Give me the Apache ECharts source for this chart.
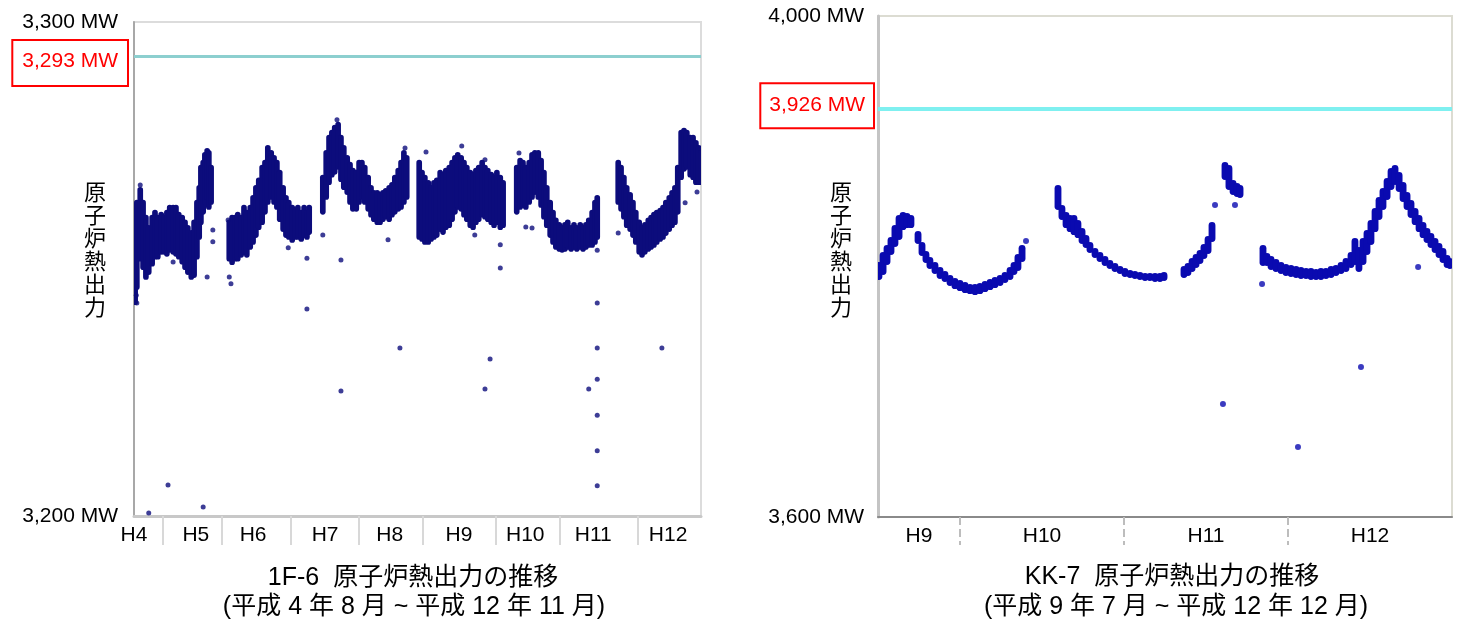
<!DOCTYPE html>
<html>
<head>
<meta charset="utf-8">
<title>原子炉熱出力の推移</title>
<script src="https://cdn.jsdelivr.net/npm/echarts@6/dist/echarts.min.js"></script>
<style>
	html, body { margin: 0; padding: 0; background: #fff; }
	#chart { width: 1462px; height: 623px; }
</style>
</head>
<body>
<div id="chart"></div>
<script>
// 1F-6 : x = months since 平成4年8月, y = MW
var leftYears = ['H4', 'H5', 'H6', 'H7', 'H8', 'H9', 'H10', 'H11', 'H12'];
var leftYearLabelAt = [0, 10.9, 21.0, 33.7, 45.1, 57.3, 69.0, 81.0, 94.2];
var leftYearEdges = [5.1, 15.5, 27.7, 39.7, 51.0, 63.8, 75.1, 88.9];
var leftRated = 3293;
// [month, low, high] of the dense band of daily points
var leftBand = [
	[0.2, 3242.7, 3260.0], [0.5, 3245.8, 3264.0], [1.1, 3251.5, 3266.6], [1.6, 3249.8, 3264.0],
	[2.1, 3247.8, 3261.0], [2.6, 3248.8, 3258.9], [3.2, 3250.5, 3261.0], [3.7, 3251.9, 3262.0],
	[4.2, 3251.9, 3261.0], [4.8, 3252.9, 3261.6], [5.3, 3252.9, 3261.0], [5.8, 3252.5, 3262.0],
	[6.3, 3253.3, 3263.0], [6.9, 3252.9, 3263.0], [7.4, 3252.5, 3263.0], [7.9, 3251.9, 3261.6],
	[8.5, 3250.9, 3261.0], [9.0, 3249.8, 3260.0], [9.5, 3248.8, 3258.9], [10.1, 3247.8, 3257.9],
	[10.6, 3248.2, 3260.0], [11.1, 3251.9, 3264.0], [11.5, 3255.9, 3267.0], [11.8, 3258.9, 3271.1],
	[12.2, 3261.0, 3272.1], [12.5, 3263.0, 3273.7], [12.9, 3264.0, 3274.5], [13.2, 3262.0, 3274.1],
	[13.6, 3263.0, 3271.1],

	[16.8, 3251.5, 3260.0], [17.3, 3250.8, 3261.0], [17.8, 3251.5, 3261.0], [18.3, 3251.5, 3261.6],
	[18.9, 3252.3, 3261.0], [19.4, 3252.9, 3263.0], [19.9, 3252.3, 3262.0], [20.5, 3253.9, 3263.0],
	[21.0, 3254.9, 3265.0], [21.5, 3256.3, 3267.0], [22.0, 3257.9, 3268.5], [22.6, 3258.9, 3271.1],
	[23.1, 3261.0, 3272.1], [23.6, 3263.0, 3275.1], [24.2, 3264.0, 3274.1], [24.7, 3263.0, 3273.1],
	[25.2, 3262.0, 3272.1], [25.7, 3259.5, 3270.1], [26.3, 3257.5, 3267.0], [26.8, 3256.3, 3265.0],
	[27.3, 3255.9, 3264.0], [27.9, 3255.3, 3263.0], [28.4, 3255.9, 3262.4], [28.9, 3255.9, 3263.0],
	[29.5, 3255.5, 3262.0], [30.0, 3256.3, 3263.0], [30.5, 3255.9, 3262.0], [30.9, 3256.9, 3263.0],

	[33.3, 3261.0, 3269.1], [33.9, 3264.0, 3274.1], [34.4, 3267.0, 3277.2], [34.9, 3268.5, 3278.2],
	[35.4, 3269.1, 3279.2], [36.0, 3270.1, 3279.8], [36.5, 3267.6, 3277.2], [37.0, 3266.0, 3275.1],
	[37.6, 3265.0, 3273.1], [38.1, 3263.0, 3271.7], [38.6, 3261.6, 3270.5], [39.2, 3261.6, 3270.1],
	[39.7, 3263.0, 3272.1], [40.2, 3264.0, 3272.1], [40.7, 3263.0, 3271.1], [41.3, 3261.6, 3269.1],
	[41.8, 3260.4, 3267.0], [42.3, 3259.5, 3266.0], [42.9, 3258.9, 3266.0], [43.4, 3258.9, 3265.6],
	[43.9, 3259.5, 3266.0], [44.4, 3260.0, 3266.4], [45.0, 3259.5, 3267.0], [45.5, 3260.4, 3267.6],
	[46.0, 3261.0, 3269.1], [46.6, 3261.6, 3270.5], [47.1, 3262.0, 3272.1], [47.6, 3263.0, 3274.1],
	[48.1, 3264.0, 3273.1],

	[50.3, 3255.9, 3272.1], [50.8, 3255.5, 3270.1], [51.3, 3254.9, 3269.1], [51.9, 3254.9, 3268.0],
	[52.4, 3255.5, 3267.0], [52.9, 3255.9, 3268.0], [53.4, 3256.3, 3268.5], [54.0, 3257.5, 3270.1],
	[54.5, 3256.9, 3269.7], [55.0, 3257.9, 3270.5], [55.6, 3258.3, 3271.1], [56.1, 3259.5, 3272.1],
	[56.6, 3261.0, 3273.1], [57.1, 3262.0, 3273.7], [57.7, 3261.6, 3273.1], [58.2, 3260.4, 3272.1],
	[58.7, 3259.5, 3271.1], [59.3, 3258.3, 3270.1], [59.8, 3257.9, 3269.7], [60.3, 3258.9, 3270.5],
	[60.8, 3259.5, 3271.1], [61.4, 3260.4, 3272.1], [61.9, 3260.0, 3271.1], [62.4, 3259.5, 3270.5],
	[63.0, 3258.9, 3269.7], [63.5, 3258.3, 3269.1], [64.0, 3258.9, 3270.1], [64.6, 3257.9, 3269.1],
	[65.1, 3258.3, 3268.0],

	[67.5, 3261.0, 3271.1], [68.1, 3262.0, 3272.5], [68.6, 3262.4, 3272.1], [69.1, 3262.0, 3271.1],
	[69.7, 3263.0, 3272.1], [70.2, 3264.0, 3273.7], [70.7, 3265.0, 3274.1], [71.3, 3264.0, 3274.1],
	[71.8, 3262.4, 3272.5], [72.3, 3260.0, 3270.1], [72.8, 3258.3, 3267.0], [73.4, 3256.3, 3264.0],
	[73.9, 3254.9, 3262.0], [74.4, 3253.9, 3260.4], [75.0, 3253.5, 3259.5], [75.5, 3253.3, 3258.9],
	[76.0, 3253.5, 3259.5], [76.5, 3253.9, 3260.0], [77.1, 3253.5, 3258.9], [77.6, 3253.9, 3259.5],
	[78.1, 3253.5, 3258.9], [78.7, 3253.9, 3259.5], [79.2, 3253.5, 3258.9], [79.7, 3253.9, 3259.5],
	[80.2, 3254.3, 3260.4], [80.8, 3254.3, 3262.0], [81.3, 3254.9, 3264.0], [81.7, 3255.9, 3265.0],

	[85.4, 3263.0, 3272.1], [85.9, 3261.6, 3271.1], [86.4, 3260.0, 3269.1], [86.9, 3258.3, 3267.0],
	[87.5, 3257.5, 3265.6], [88.0, 3256.3, 3264.0], [88.5, 3254.9, 3262.0], [89.1, 3252.9, 3260.0],
	[89.6, 3252.3, 3258.9], [90.1, 3252.9, 3259.5], [90.7, 3253.5, 3260.4], [91.2, 3253.9, 3261.0],
	[91.7, 3254.3, 3261.6], [92.2, 3254.9, 3262.0], [92.8, 3255.5, 3262.4], [93.3, 3255.9, 3263.0],
	[93.8, 3256.7, 3264.0], [94.4, 3257.5, 3265.0], [94.9, 3258.3, 3266.0], [95.4, 3258.9, 3267.0],
	[95.9, 3261.0, 3271.1], [96.5, 3268.0, 3278.2], [97.0, 3269.7, 3278.6], [97.5, 3270.1, 3278.2],
	[98.1, 3268.5, 3277.2], [98.6, 3268.0, 3277.2], [99.1, 3267.0, 3276.1], [99.6, 3267.0, 3275.1],
	[100, 3267.0, 3274.1]
];
// scattered single points away from the band
var leftOutliers = [
	[0.4, 3244.7], [0.5, 3243.1], [2.6, 3200.6], [6.0, 3206.3], [12.2, 3201.8], [6.9, 3251.4],
	[12.9, 3248.4], [13.9, 3255.5], [13.9, 3257.9], [16.6, 3259.9], [16.8, 3248.4], [17.1, 3247.0],
	[27.2, 3254.3], [30.5, 3252.2], [30.5, 3241.9], [33.3, 3256.9], [36.5, 3251.8], [36.5, 3225.3],
	[44.8, 3255.9], [46.9, 3234.0], [47.8, 3274.5], [51.5, 3273.7], [57.8, 3274.9], [60.1, 3256.9],
	[61.9, 3272.1], [64.6, 3254.9], [64.6, 3250.2], [61.9, 3225.7], [62.8, 3231.8], [67.9, 3273.5],
	[69.1, 3258.5], [70.2, 3258.3], [81.7, 3253.8], [81.7, 3243.1], [81.7, 3234.0], [81.7, 3227.7],
	[80.2, 3225.7], [81.7, 3220.4], [81.7, 3213.2], [81.7, 3206.1], [85.4, 3257.3], [93.1, 3234.0],
	[97.2, 3263.4], [99.3, 3265.6], [35.8, 3280.2], [1.1, 3267.0]
];

// KK-7 : x = months since 平成9年7月, y = MW
var rightYears = ['H9', 'H10', 'H11', 'H12'];
var rightYearLabelAt = [3, 12, 24, 36];
var rightYearEdges = [6, 18, 30];
var rightRated = 3926;
var rightBand = [
	[0.07, 3789.2, 3803.6], [0.37, 3793.2, 3811.6], [0.66, 3801.2, 3817.2], [0.95, 3809.2, 3823.5],
	[1.24, 3815.6, 3833.1], [1.54, 3821.2, 3841.2], [1.83, 3829.1, 3843.5], [2.12, 3830.7, 3842.7],
	[2.41, 3830.7, 3841.2],
	[2.93, 3818.0, 3828.3], [3.22, 3808.4, 3819.6], [3.51, 3802.8, 3812.4], [3.80, 3798.0, 3807.6],
	[4.17, 3794.0, 3803.6], [4.54, 3790.0, 3799.6], [4.90, 3787.6, 3796.4], [5.27, 3784.4, 3793.2],
	[5.63, 3782.0, 3790.8], [6.00, 3780.4, 3789.2], [6.37, 3778.8, 3787.6], [6.73, 3778.0, 3786.0],
	[7.10, 3777.2, 3786.0], [7.46, 3778.0, 3786.8], [7.83, 3779.6, 3788.4], [8.20, 3781.2, 3790.0],
	[8.56, 3782.8, 3791.6], [8.93, 3784.4, 3793.2], [9.29, 3786.8, 3795.6], [9.66, 3789.2, 3799.6],
	[9.95, 3793.2, 3803.6], [10.24, 3796.4, 3810.0], [10.54, 3803.6, 3817.2],

	[13.17, 3845.1, 3865.1], [13.46, 3837.1, 3849.1], [13.76, 3830.7, 3843.5], [14.05, 3827.5, 3841.2],
	[14.34, 3825.1, 3841.2], [14.63, 3822.7, 3837.1], [14.93, 3818.0, 3830.7], [15.22, 3814.8, 3825.1],
	[15.51, 3810.8, 3819.6], [15.88, 3806.8, 3814.8], [16.24, 3803.6, 3811.6], [16.61, 3800.4, 3808.4],
	[16.97, 3798.0, 3805.2], [17.34, 3795.6, 3802.8], [17.71, 3794.0, 3800.4], [18.07, 3791.6, 3798.8],
	[18.44, 3790.8, 3797.2], [18.80, 3790.0, 3796.4], [19.17, 3789.2, 3795.6], [19.54, 3788.4, 3794.8],
	[19.90, 3788.4, 3794.8], [20.27, 3787.6, 3794.8], [20.63, 3787.6, 3794.8], [20.93, 3788.4, 3795.6],

	[22.39, 3790.8, 3800.4], [22.68, 3792.4, 3802.8], [22.98, 3795.6, 3806.8], [23.27, 3798.8, 3810.0],
	[23.56, 3802.0, 3813.2], [23.85, 3806.0, 3818.0], [24.15, 3810.0, 3824.3], [24.44, 3819.6, 3835.5],
	[25.39, 3869.1, 3883.4], [25.68, 3861.1, 3881.0], [25.98, 3857.1, 3869.1], [26.27, 3855.5, 3866.7],
	[26.49, 3854.7, 3865.1],

	[28.17, 3800.4, 3817.2], [28.46, 3800.4, 3810.8], [28.76, 3797.2, 3808.4], [29.12, 3795.6, 3806.0],
	[29.49, 3794.0, 3803.6], [29.85, 3792.4, 3802.0], [30.22, 3791.6, 3801.2], [30.59, 3790.8, 3800.4],
	[30.95, 3790.0, 3799.6], [31.32, 3790.0, 3798.8], [31.68, 3789.2, 3798.8], [32.05, 3789.2, 3798.0],
	[32.41, 3789.2, 3798.8], [32.78, 3790.0, 3798.8], [33.15, 3790.8, 3800.4], [33.51, 3792.4, 3801.2],
	[33.88, 3794.0, 3803.6], [34.24, 3795.6, 3806.8], [34.61, 3798.8, 3811.6], [34.90, 3801.2, 3822.7],
	[35.19, 3795.6, 3815.6], [35.49, 3801.2, 3822.7], [35.78, 3809.2, 3829.1], [36.07, 3817.2, 3837.1],
	[36.37, 3827.5, 3846.7], [36.66, 3837.1, 3855.5], [36.95, 3845.1, 3862.7], [37.25, 3853.1, 3870.7],
	[37.54, 3861.1, 3878.6], [37.83, 3865.1, 3881.0], [38.13, 3859.5, 3875.4], [38.42, 3851.5, 3867.5],
	[38.71, 3845.1, 3859.5], [39.00, 3838.8, 3853.1], [39.30, 3833.1, 3846.7], [39.59, 3827.5, 3841.2],
	[39.88, 3822.7, 3835.5], [40.17, 3818.8, 3830.7], [40.46, 3814.8, 3826.7], [40.76, 3810.8, 3822.7],
	[41.05, 3806.8, 3818.8], [41.34, 3802.8, 3814.8], [41.64, 3798.8, 3809.2], [41.85, 3798.0, 3806.8]
];
var rightOutliers = [
	[10.83, 3820.4], [24.66, 3849.1], [26.12, 3849.1], [28.10, 3786.0], [39.52, 3799.6],
	[25.24, 3690.2], [30.73, 3655.9], [35.34, 3719.8]
];

var textFont = '"Liberation Sans", "Noto Sans CJK JP", sans-serif';

function bandRenderer(monthWidth, color) {
	return function (params, api) {
		var x = api.value(0);
		var top = api.coord([x, api.value(2)]);
		var bottom = api.coord([x, api.value(1)]);
		var w = api.size([monthWidth, 0])[0];
		return {
			type: 'rect',
			shape: { x: top[0] - w / 2, y: top[1], width: w, height: bottom[1] - top[1], r: w / 2 },
			style: { fill: color }
		};
	};
}

function mwLabel(v) {
	return v.toLocaleString('en-US') + ' MW';
}

// red boxed value left of the rated line; shift > 0 moves the box below the line
function ratedLine(value, color, width, padding, distance, shift) {
	var box = '{b|' + mwLabel(value) + '}';
	var gap = '{s| }';
	return {
		silent: true,
		symbol: 'none',
		data: [{ yAxis: value }],
		lineStyle: { color: color, width: width, type: 'solid' },
		label: {
			position: 'start',
			distance: distance,
			formatter: shift > 0 ? gap + '\n' + box : box + '\n' + gap,
			rich: {
				b: {
					color: '#ff0000',
					fontSize: 21,
					fontFamily: textFont,
					lineHeight: 24,
					borderColor: '#ff0000',
					borderWidth: 2,
					backgroundColor: '#fff',
					padding: padding
				},
				s: { fontSize: 1, lineHeight: Math.abs(shift) * 2, height: Math.abs(shift) * 2 }
			}
		}
	};
}

var myChart = echarts.init(document.getElementById('chart'));
var option = {
	animation: false,
	grid: [{
		left: 134, top: 22, right: 761, bottom: 107,
		show: true, borderColor: '#dcdcdc', borderWidth: 2
	}, {
		left: 878, top: 16, right: 10, bottom: 106,
		show: true, borderColor: '#dcdcd2', borderWidth: 2
	}],
	xAxis: [{
		gridIndex: 0, type: 'value', min: 0, max: 100,
		splitLine: { show: false },
		axisLine: { lineStyle: { color: '#c8c8c8', width: 3 } },
		axisTick: { show: true, customValues: leftYearEdges, length: 29, lineStyle: { color: '#d8d8d8', width: 2 } },
		axisLabel: {
			customValues: leftYearLabelAt,
			formatter: function (v) { return leftYears[leftYearLabelAt.indexOf(v)]; },
			color: '#000', fontSize: 21, fontFamily: textFont, margin: 9
		}
	}, {
		gridIndex: 1, type: 'value', min: 0, max: 42,
		splitLine: { show: false },
		axisLine: { lineStyle: { color: '#8a8a8a', width: 2 } },
		axisTick: { show: true, customValues: rightYearEdges, length: 28, lineStyle: { color: '#bdbdbd', width: 2, type: 'dashed' } },
		axisLabel: {
			customValues: rightYearLabelAt,
			formatter: function (v) { return rightYears[rightYearLabelAt.indexOf(v)]; },
			color: '#000', fontSize: 21, fontFamily: textFont, margin: 9
		}
	}],
	yAxis: [{
		gridIndex: 0, type: 'value', min: 3200, max: 3300,
		splitLine: { show: false },
		axisTick: { show: false },
		axisLine: { show: true, lineStyle: { color: '#a8a8a8', width: 2 } },
		axisLabel: { customValues: [3200, 3300], formatter: mwLabel, color: '#000', fontSize: 21, fontFamily: textFont, margin: 16 }
	}, {
		gridIndex: 1, type: 'value', min: 3600, max: 4000,
		splitLine: { show: false },
		axisTick: { show: false },
		axisLine: { show: true, lineStyle: { color: '#c4c4c4', width: 3 } },
		axisLabel: { customValues: [3600, 4000], formatter: mwLabel, color: '#000', fontSize: 21, fontFamily: textFont, margin: 14 }
	}],
	series: [{
		name: '1F-6',
		type: 'custom',
		xAxisIndex: 0, yAxisIndex: 0,
		clip: true,
		renderItem: bandRenderer(1.0, '#0c0c7c'),
		encode: { x: 0, y: [1, 2] },
		data: leftBand
	}, {
		name: '1F-6 点',
		type: 'scatter',
		xAxisIndex: 0, yAxisIndex: 0,
		symbolSize: 5,
		itemStyle: { color: '#0c0c7c' },
		data: leftOutliers,
		markLine: ratedLine(leftRated, '#8ccfcf', 3, [10, 9, 13, 9], 7, 6.5)
	}, {
		name: 'KK-7',
		type: 'custom',
		xAxisIndex: 1, yAxisIndex: 1,
		clip: true,
		renderItem: bandRenderer(0.5, '#0a0ab0'),
		encode: { x: 0, y: [1, 2] },
		data: rightBand
	}, {
		name: 'KK-7 点',
		type: 'scatter',
		xAxisIndex: 1, yAxisIndex: 1,
		symbolSize: 6,
		itemStyle: { color: '#0a0ab0' },
		data: rightOutliers,
		markLine: ratedLine(rightRated, '#7ff0f0', 4, [11, 8, 11, 8], 5, -3)
	}],
	graphic: [{
		type: 'text', x: 95, y: 180,
		style: { text: '原\n子\n炉\n熱\n出\n力', font: '22px "Noto Sans CJK JP"', lineHeight: 23, textAlign: 'center', fill: '#000' }
	}, {
		type: 'text', x: 841, y: 180,
		style: { text: '原\n子\n炉\n熱\n出\n力', font: '22px "Noto Sans CJK JP"', lineHeight: 23, textAlign: 'center', fill: '#000' }
	}, {
		type: 'text', x: 413, y: 578,
		style: { text: '1F-6  原子炉熱出力の推移', font: '25px ' + textFont, textAlign: 'center', textVerticalAlign: 'middle', fill: '#000' }
	}, {
		type: 'text', x: 414, y: 607,
		style: { text: '(平成 4 年 8 月 ~ 平成 12 年 11 月)', font: '25px ' + textFont, textAlign: 'center', textVerticalAlign: 'middle', fill: '#000' }
	}, {
		type: 'text', x: 1172, y: 577,
		style: { text: 'KK-7  原子炉熱出力の推移', font: '25px ' + textFont, textAlign: 'center', textVerticalAlign: 'middle', fill: '#000' }
	}, {
		type: 'text', x: 1176, y: 607,
		style: { text: '(平成 9 年 7 月 ~ 平成 12 年 12 月)', font: '25px ' + textFont, textAlign: 'center', textVerticalAlign: 'middle', fill: '#000' }
	}]
};
myChart.setOption(option);
window.addEventListener("resize", function () {
	myChart.resize();
});
</script>
</body>
</html>
